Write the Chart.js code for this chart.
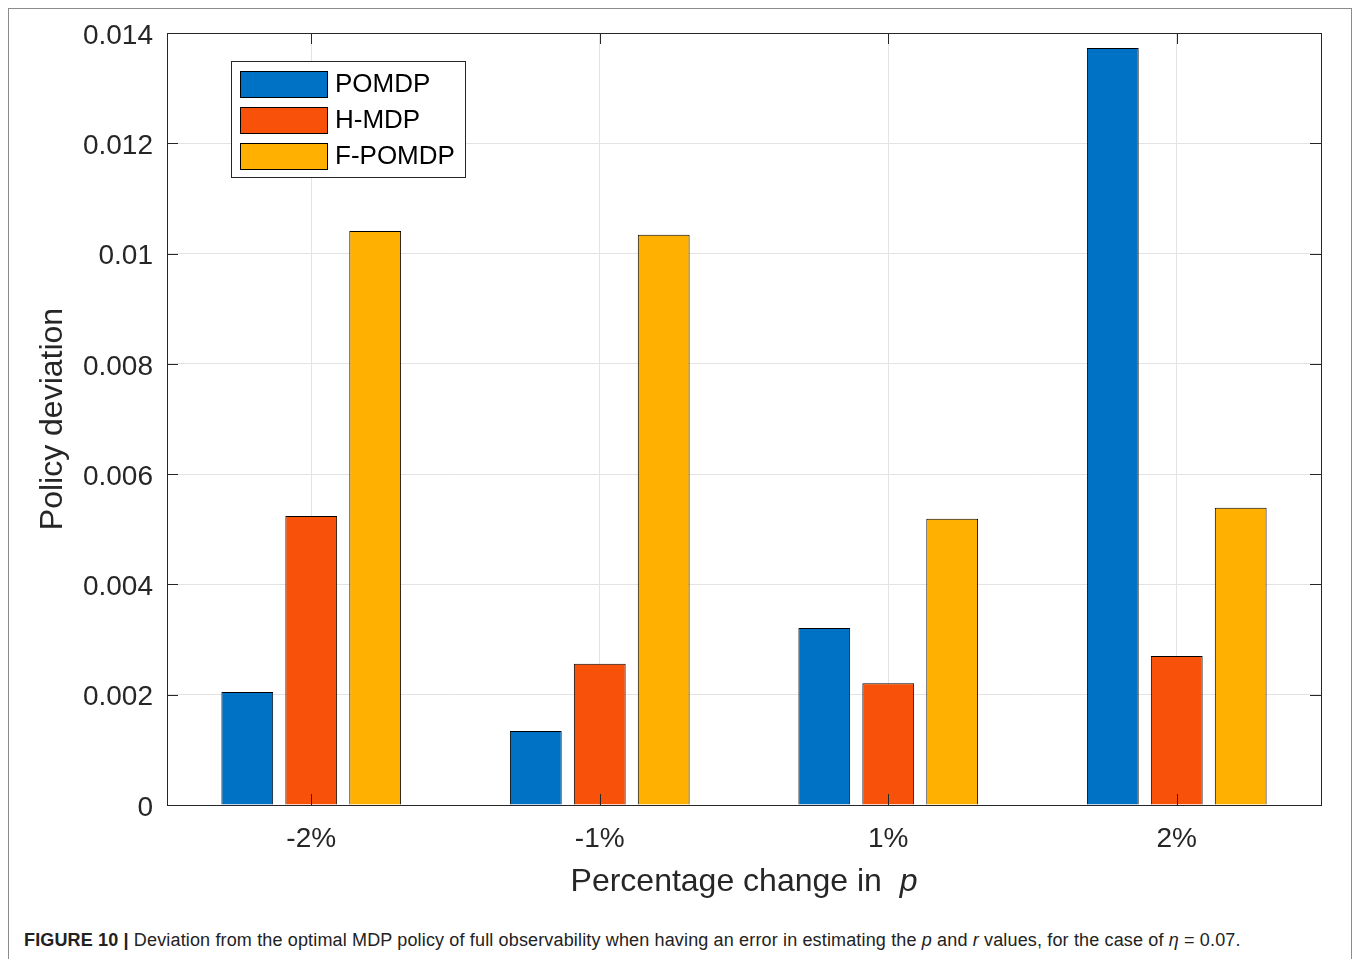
<!DOCTYPE html>
<html>
<head>
<meta charset="utf-8">
<script src="https://cdn.jsdelivr.net/npm/chart.js@4.4.1/dist/chart.umd.min.js"></script>
<style>
  html, body { margin: 0; padding: 0; overflow: hidden; background: #fff; }
  #marco { position: absolute; left: 8px; top: 8px; width: 1342px; height: 990px; border: 1px solid #8c8c8c; }
  #contenedor { position: absolute; left: 0; top: 0; width: 1354px; height: 920px; }
  #pie { position: absolute; left: 24px; top: 930px; font-family: "Liberation Sans", Arial, sans-serif;
         font-size: 18px; letter-spacing: 0.15px; color: #222; white-space: nowrap; }
</style>
</head>
<body>
<div id="marco"></div>
<div id="contenedor"><canvas id="desviacion"></canvas></div>
<div id="pie"><b>FIGURE 10 |</b> Deviation from the optimal MDP policy of full observability when having an error in estimating the <i>p</i> and <i>r</i> values, for the case of <i>η</i> = 0.07.</div>
<script>
const categorias = ['-2%', '-1%', '1%', '2%'];
const pomdp = [0.00205, 0.00134, 0.00321, 0.01373];
const hmdp = [0.00524, 0.00256, 0.00221, 0.00270];
const fpomdp = [0.01041, 0.01034, 0.00519, 0.00539];
const yTickLabels = ['0', '0.002', '0.004', '0.006', '0.008', '0.01', '0.012', '0.014'];

const fuente = '"Liberation Sans", Arial, sans-serif';
const negro = '#262626';

// marco de ejes, ticks hacia dentro, leyenda y titulo del eje x
const estiloMatlab = {
    id: 'estiloMatlab',
    afterDatasetsDraw(chart) {
        const { ctx, chartArea: a, scales } = chart;
        ctx.save();
        ctx.strokeStyle = negro;
        ctx.lineWidth = 1;
        ctx.strokeRect(Math.round(a.left) + 0.5, Math.round(a.top) + 0.5,
            Math.round(a.right - a.left), Math.round(a.bottom - a.top));
        const t = 11;
        ctx.beginPath();
        scales.y.ticks.forEach((tk, i) => {
            const y = Math.round(scales.y.getPixelForTick(i)) + 0.5;
            ctx.moveTo(a.left, y); ctx.lineTo(a.left + t, y);
            ctx.moveTo(a.right, y); ctx.lineTo(a.right - t, y);
        });
        scales.x.ticks.forEach((tk, i) => {
            const x = Math.round(scales.x.getPixelForTick(i)) + 0.5;
            ctx.moveTo(x, a.bottom); ctx.lineTo(x, a.bottom - t);
            ctx.moveTo(x, a.top); ctx.lineTo(x, a.top + t);
        });
        ctx.stroke();

        // leyenda dentro del area
        const lx = Math.round(a.left) + 64, ly = Math.round(a.top) + 28;
        ctx.fillStyle = '#fff';
        ctx.fillRect(lx, ly, 234, 116);
        ctx.strokeStyle = negro;
        ctx.strokeRect(lx + 0.5, ly + 0.5, 234, 116);
        ctx.font = '26px ' + fuente;
        ctx.textBaseline = 'middle';
        chart.data.datasets.forEach((ds, i) => {
            const yc = ly + 23 + i * 36;
            ctx.fillStyle = ds.backgroundColor;
            ctx.fillRect(lx + 9, yc - 13, 87, 26);
            ctx.strokeStyle = '#000';
            ctx.strokeRect(lx + 9.5, yc - 12.5, 87, 26);
            ctx.fillStyle = '#000';
            ctx.fillText(ds.label, lx + 104, yc + 1);
        });

        // titulo eje x con p en cursiva
        const parte1 = 'Percentage change in  ', parte2 = 'p';
        ctx.font = '32px ' + fuente;
        const w1 = ctx.measureText(parte1).width;
        ctx.font = 'italic 32px ' + fuente;
        const w2 = ctx.measureText(parte2).width;
        const x0 = (a.left + a.right) / 2 - (w1 + w2) / 2;
        const yt = a.bottom + 77;
        ctx.fillStyle = negro;
        ctx.textAlign = 'left';
        ctx.font = '32px ' + fuente;
        ctx.fillText(parte1, x0, yt);
        ctx.font = 'italic 32px ' + fuente;
        ctx.fillText(parte2, x0 + w1, yt);
        ctx.restore();
    }
};

const grafico = document.getElementById('desviacion').getContext('2d');
new Chart(grafico, {
    type: 'bar',
    data: {
        labels: categorias,
        datasets: [
            { label: 'POMDP', data: pomdp, backgroundColor: '#0072C6', borderColor: '#000', borderWidth: 1 },
            { label: 'H-MDP', data: hmdp, backgroundColor: '#F8510A', borderColor: '#000', borderWidth: 1 },
            { label: 'F-POMDP', data: fpomdp, backgroundColor: '#FFB000', borderColor: '#000', borderWidth: 1 }
        ]
    },
    options: {
        responsive: true,
        maintainAspectRatio: false,
        animation: false,
        categoryPercentage: 0.665,
        barPercentage: 0.81,
        layout: { padding: { left: 0, top: 33, right: 33, bottom: 15 } },
        plugins: { legend: { display: false }, tooltip: { enabled: false } },
        scales: {
            x: {
                afterFit: s => { s.height = 100; },
                grid: { color: '#e3e3e3', offset: false, drawTicks: false },
                border: { display: false },
                ticks: { color: negro, padding: 17, font: { family: fuente, size: 28 } }
            },
            y: {
                min: 0,
                max: 0.014,
                afterFit: s => { s.width = 167; },
                grid: { color: '#e3e3e3', drawTicks: false },
                border: { display: false },
                ticks: {
                    stepSize: 0.002,
                    color: negro,
                    padding: 14,
                    labelOffset: 3,
                    font: { family: fuente, size: 28 },
                    callback: (v, i) => yTickLabels[i]
                },
                title: {
                    display: true,
                    text: 'Policy deviation',
                    color: negro,
                    padding: { top: 34, bottom: 0 },
                    font: { family: fuente, size: 32 }
                }
            }
        }
    },
    plugins: [estiloMatlab]
});
</script>
</body>
</html>
